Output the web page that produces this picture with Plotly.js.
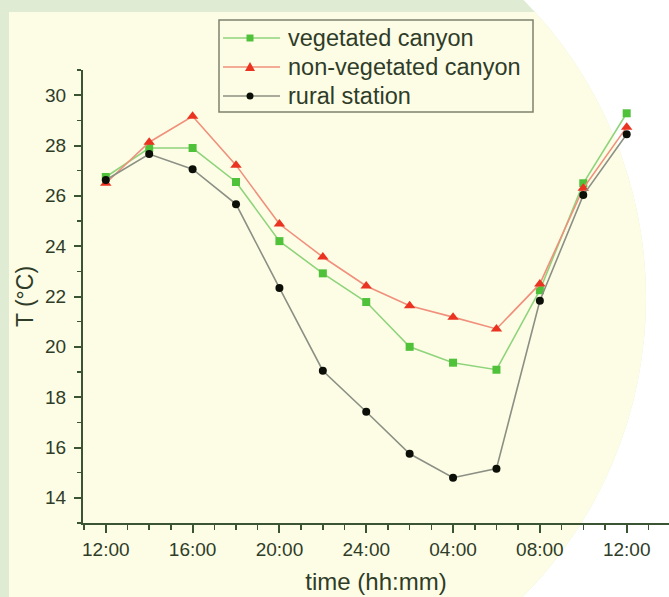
<!DOCTYPE html>
<html>
<head>
<meta charset="utf-8">
<script src="https://cdn.plot.ly/plotly-3.0.1.min.js"></script>
<style>
  html, body { margin: 0; padding: 0; background: #ffffff; }
  #wrap { position: relative; width: 669px; height: 597px; overflow: hidden; background: #ffffff; }
  #disc { position: absolute; left: -202px; top: -126px; width: 848px; height: 848px; border-radius: 50%; background: #e0ebd3; overflow: hidden; }
  #inner { position: absolute; left: 211px; top: 138px; width: 1200px; height: 1200px; background: #fdfde6; }
  #plot { position: absolute; left: 0; top: 0; width: 669px; height: 597px; }
</style>
</head>
<body>
<div id="wrap">
  <div id="disc"><div id="inner"></div></div>
  <div id="plot"></div>
</div>
<script>
// time in hours from 12:00 of day 1 (12 .. 36)
const hours = [12, 14, 16, 18, 20, 22, 24, 26, 28, 30, 32, 34, 36];
const vegetated = [26.75, 27.9, 27.9, 26.55, 24.2, 22.92, 21.78, 20.0, 19.37, 19.09, 22.25, 26.5, 29.28];
const nonVegetated = [26.5, 28.13, 29.16, 27.22, 24.88, 23.57, 22.42, 21.63, 21.18, 20.71, 22.5, 26.3, 28.73];
const rural = [26.63, 27.66, 27.06, 25.67, 22.34, 19.05, 17.42, 15.75, 14.8, 15.16, 21.83, 26.03, 28.45];
const tickVals = [12, 16, 20, 24, 28, 32, 36];
const tickText = ['12:00', '16:00', '20:00', '24:00', '04:00', '08:00', '12:00'];
const seriesNames = ['vegetated canyon', 'non-vegetated canyon', 'rural station'];

const axisColor = '#3b5433';
const textColor = '#2f3c28';
const fontFam = 'Liberation Sans, Arial, sans-serif';

const styles = [
  { line: '#8fd47c', marker: '#4fc23a', symbol: 'square', size: 8 },
  { line: '#f0907c', marker: '#ea3320', symbol: 'triangle-up', size: 10 },
  { line: '#8c9084', marker: '#0b0f08', symbol: 'circle', size: 8 }
];
const seriesValues = [vegetated, nonVegetated, rural];

const traces = seriesValues.map((vals, i) => ({
  x: hours, y: vals, name: seriesNames[i], type: 'scatter', mode: 'lines+markers',
  line: { color: styles[i].line, width: 1.6 },
  marker: { symbol: styles[i].symbol, size: styles[i].size, color: styles[i].marker },
  showlegend: false
}));

// plot geometry (pixels)
const W = 669, H = 597;
const M = { l: 83, r: 0, t: 70, b: 74 };
const pw = W - M.l - M.r, ph = H - M.t - M.b;
const px = v => (v - M.l) / pw;
const py = v => (H - M.b - v) / ph;

// hand-made legend box (like the original's framed legend)
const shapes = [];
const annotations = [];
const leg = { x0: 219, x1: 533, y0: 20, y1: 112, rows: [38, 67, 96], lineX0: 223, lineX1: 280, mk: 250, textX: 286 };
shapes.push({ type: 'rect', xref: 'paper', yref: 'paper', x0: px(leg.x0), x1: px(leg.x1), y0: py(leg.y1), y1: py(leg.y0),
  line: { color: '#7d826f', width: 1.5 }, fillcolor: 'rgba(0,0,0,0)' });
seriesNames.forEach((name, i) => {
  const cy = leg.rows[i];
  shapes.push({ type: 'line', xref: 'paper', yref: 'paper', x0: px(leg.lineX0), x1: px(leg.lineX1), y0: py(cy), y1: py(cy),
    line: { color: styles[i].line, width: 1.6 } });
  const s = styles[i];
  if (s.symbol === 'square') {
    shapes.push({ type: 'rect', xref: 'paper', yref: 'paper', x0: px(leg.mk - 3.5), x1: px(leg.mk + 3.5), y0: py(cy + 3.5), y1: py(cy - 3.5),
      line: { width: 0 }, fillcolor: s.marker });
  } else if (s.symbol === 'triangle-up') {
    const p = `M${px(leg.mk - 5)},${py(cy + 4)} L${px(leg.mk + 5)},${py(cy + 4)} L${px(leg.mk)},${py(cy - 5)} Z`;
    shapes.push({ type: 'path', xref: 'paper', yref: 'paper', path: p, line: { width: 0 }, fillcolor: s.marker });
  } else {
    shapes.push({ type: 'circle', xref: 'paper', yref: 'paper', x0: px(leg.mk - 3.5), x1: px(leg.mk + 3.5), y0: py(cy + 3.5), y1: py(cy - 3.5),
      line: { width: 0 }, fillcolor: s.marker });
  }
  annotations.push({ xref: 'paper', yref: 'paper', x: px(leg.textX), y: py(cy), xanchor: 'left', yanchor: 'middle',
    text: name, showarrow: false, font: { size: 23.5, color: textColor, family: fontFam } });
});

const layout = {
  width: W, height: H,
  paper_bgcolor: 'rgba(0,0,0,0)', plot_bgcolor: 'rgba(0,0,0,0)',
  margin: M,
  font: { family: fontFam, color: textColor },
  showlegend: false,
  shapes: shapes,
  annotations: annotations,
  xaxis: {
    range: [10.95, 37.95], showgrid: false, zeroline: false,
    showline: true, linecolor: axisColor, linewidth: 2,
    tickmode: 'array', tickvals: tickVals, ticktext: tickText,
    ticks: 'outside', ticklen: 8, tickwidth: 2, tickcolor: axisColor,
    minor: { dtick: 1, tick0: 0, ticks: 'outside', ticklen: 5, tickwidth: 1.5, tickcolor: axisColor, showgrid: false },
    tickfont: { size: 19, color: textColor },
    title: { text: 'time (hh:mm)', font: { size: 24, color: textColor }, standoff: 14 }
  },
  yaxis: {
    range: [13, 31], showgrid: false, zeroline: false,
    showline: true, linecolor: axisColor, linewidth: 2,
    tickmode: 'linear', tick0: 14, dtick: 2,
    ticks: 'outside', ticklen: 7, tickwidth: 2, tickcolor: axisColor,
    minor: { dtick: 1, tick0: 13, ticks: 'outside', ticklen: 4, tickwidth: 1.5, tickcolor: axisColor, showgrid: false },
    tickfont: { size: 19, color: textColor },
    ticklabelstandoff: 4,
    title: { text: 'T (°C)', font: { size: 23, color: textColor }, standoff: 5 }
  }
};

Plotly.newPlot('plot', traces, layout, { displayModeBar: false, staticPlot: true });
</script>
</body>
</html>
